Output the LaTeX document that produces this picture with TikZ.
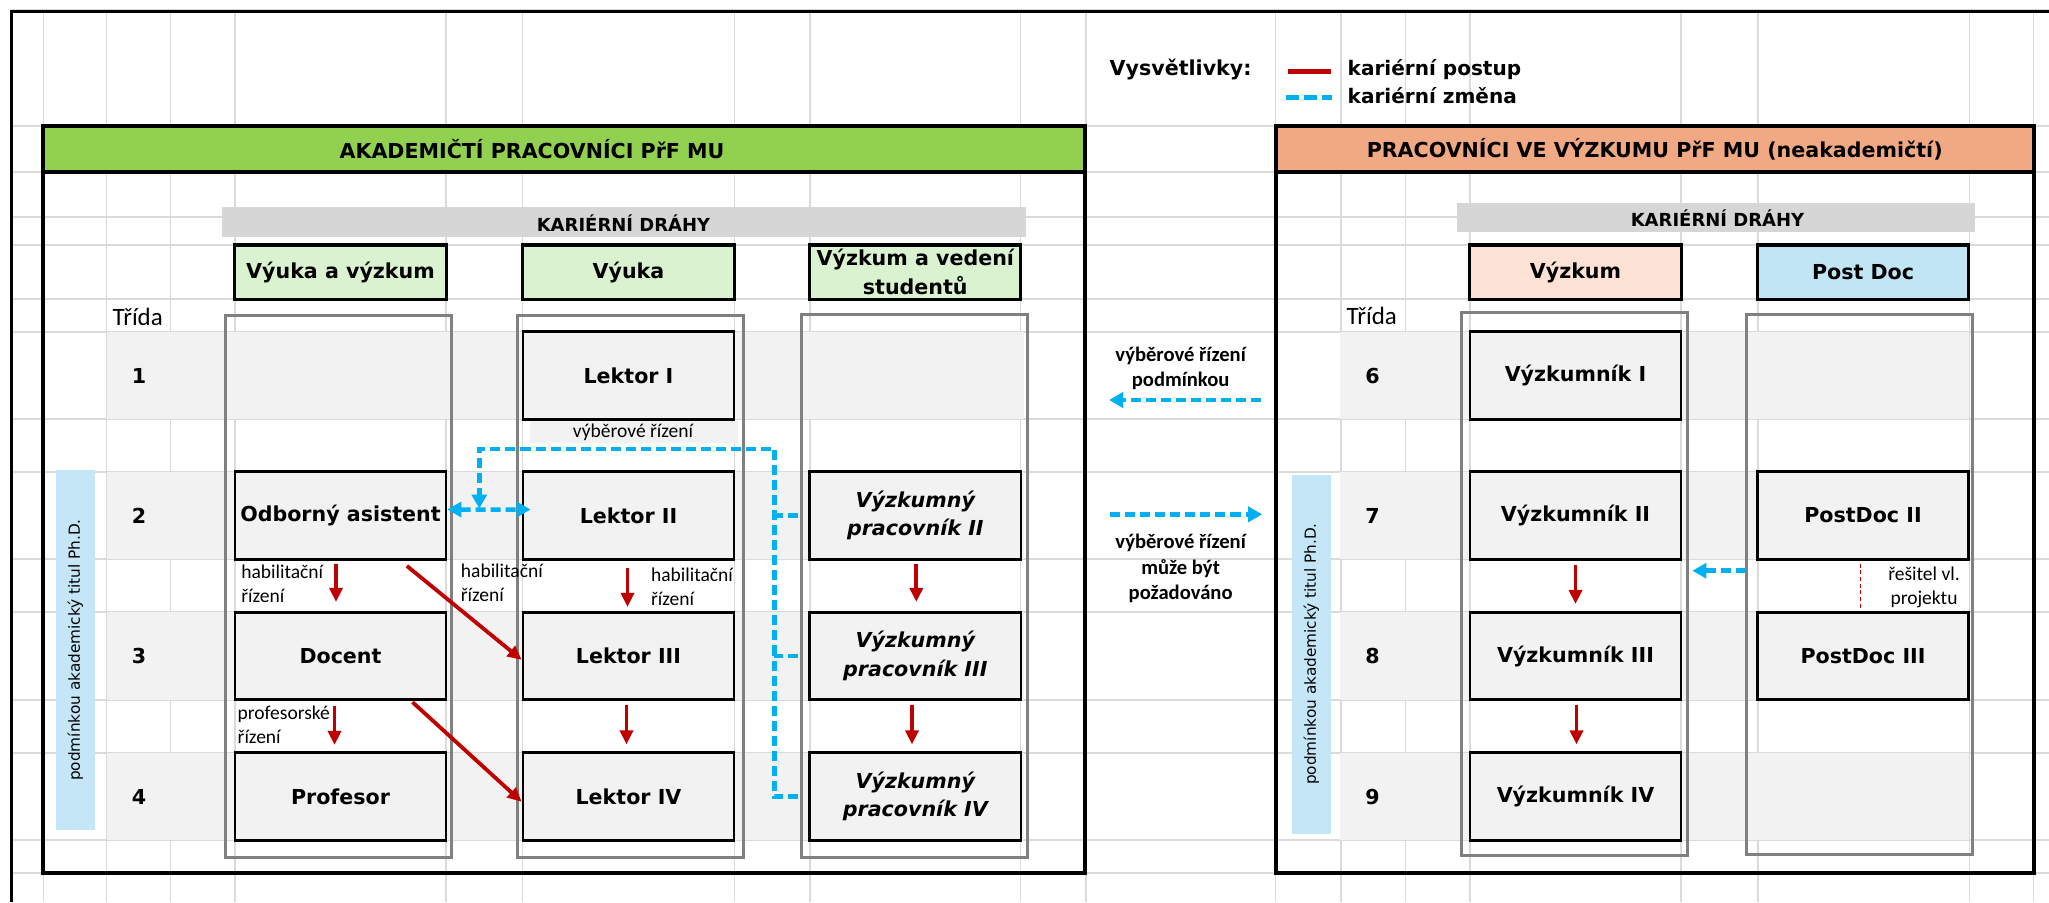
\documentclass[tikz,border=0pt]{standalone}
\usepackage{fontspec}
\setmainfont{DejaVu Sans}
\newfontfamily\calfont{Carlito}
\usetikzlibrary{arrows.meta,calc}
\definecolor{cred}{HTML}{C00000}
\definecolor{cblue}{HTML}{00B0F0}
\definecolor{gridc}{HTML}{DADADA}
\definecolor{cellgray}{HTML}{F2F2F2}
\definecolor{outgray}{HTML}{808080}
\definecolor{hgreen}{HTML}{92D050}
\definecolor{lgreen}{HTML}{DAF2D0}
\definecolor{horange}{HTML}{F1A983}
\definecolor{lpeach}{HTML}{FBE2D5}
\definecolor{lblue}{HTML}{C0E6F5}
\definecolor{hatchc}{HTML}{D6D6D6}
\definecolor{vlab}{HTML}{C5E6F6}
\newcommand\fMain{\fontsize{5.86pt}{8.08pt}\selectfont\bfseries}
\newcommand\fMainIt{\fontsize{5.86pt}{8.08pt}\selectfont\bfseries\itshape}
\newcommand\fKar{\fontsize{5.12pt}{6pt}\selectfont\bfseries}
\newcommand\fSmallCal{\calfont\fontsize{5.55pt}{6.83pt}\selectfont}
\newcommand\fMidCal{\calfont\fontsize{5.86pt}{7.26pt}\selectfont\bfseries}
\newcommand\fTrida{\calfont\fontsize{7.1pt}{8pt}\selectfont}
\newcommand\fVert{\fontsize{4.35pt}{5pt}\selectfont}
\newcommand\fLeg{\fontsize{5.7pt}{7pt}\selectfont\bfseries}
\tikzset{
  posbox/.style={draw=black, line width=0.027cm, fill=cellgray, minimum width=2.11cm, minimum height=0.875cm, inner sep=0pt, align=center, font=\fMain},
  colhead/.style={draw=black, line width=0.03cm, minimum width=2.11cm, minimum height=0.54cm, inner sep=0pt, align=center, font=\fMain},
  colout/.style={draw=outgray, line width=0.03cm},
  gridln/.style={draw=gridc, line width=0.015cm},
  frameln/.style={draw=black, line width=0.04cm},
  redarr/.style={draw=cred, line width=0.038cm, -{Triangle[length=0.14cm,width=0.13cm]}},
  bluedash/.style={draw=cblue, line width=0.045cm, dash pattern=on 0.1cm off 0.05cm},
  bluetip/.style={-{Triangle[length=0.14cm,width=0.15cm]}},
  smalllab/.style={font=\fSmallCal, align=left, inner sep=0pt},
  midlab/.style={font=\fMidCal, align=center, inner sep=0pt},
  numlab/.style={font=\fMain, inner sep=0pt},
}
\begin{document}
\begin{tikzpicture}[x=0.01cm,y=-0.01cm]
\useasboundingbox (0,0) rectangle (2049,902);
% spreadsheet grid
\foreach \gx in {43.5,106.6,170.5,235,446,522.6,734.5,810,1020.7,1086,1275.6,1341,1405.4,1470,1681,1758,1969.4,2033.6}
  \draw[gridln] (\gx,11) -- (\gx,902);
\foreach \gy in {126,172,217,245,299,332,419,472,559,612,700,753,840,873}
  \draw[gridln] (12,\gy) -- (2049,\gy);
\draw[gridln] (12,9.3) -- (2049,9.3);
\draw[black, line width=0.025cm] (2049,11.3) -- (11.7,11.3) -- (11.7,902);
% row bands
\foreach \ya/\yb in {332/419,472/559,612/700,753/840}{
  \fill[cellgray] (106.6,\ya) rectangle (1024,\yb);
  \fill[cellgray] (1340,\ya) rectangle (1969.4,\yb);
}
% vertical label backgrounds
\fill[vlab] (56,470) rectangle (94.7,830);
\fill[vlab] (1292,475) rectangle (1330.5,834);
% career band
\fill[hatchc] (221.7,207) rectangle (1025.6,237);
\fill[hatchc] (1457,203) rectangle (1974.7,232);
% frames
\draw[frameln] (43,126) rectangle (1085,873);
\draw[frameln, fill=hgreen] (43,126) rectangle (1085,172);
\draw[frameln] (1275.6,126) rectangle (2033.6,873);
\draw[frameln, fill=horange] (1275.6,126) rectangle (2033.6,172);
% column outlines
\draw[colout] (225.9,315) rectangle (451,857.7);
\draw[colout] (517.7,315) rectangle (743.6,857.7);
\draw[colout] (801.8,314) rectangle (1027.7,857.7);
\draw[colout] (1461.6,312.7) rectangle (1687.7,855.3);
\draw[colout] (1746.6,314) rectangle (1972,854);
% header texts
\node[font=\fMain, inner sep=0pt] (tAkad) at (532,149) {AKADEMIČTÍ PRACOVNÍCI PřF MU};
\node[font=\fMain, inner sep=0pt] (tVyzk) at (1654.7,149) {PRACOVNÍCI VE VÝZKUMU PřF MU (neakademičtí)};
\node[font=\fKar, inner sep=0pt] (kar1) at (623.5,222.7) {KARIÉRNÍ DRÁHY};
\node[font=\fKar, inner sep=0pt] (kar2) at (1717.5,218) {KARIÉRNÍ DRÁHY};
% legend
\node[font=\fMain, anchor=west, inner sep=0pt] (leg) at (1109,69) {Vysvětlivky:};
\coordinate (lr1) at (1288,71); \coordinate (lr2) at (1331,71);
\draw[cred, line width=0.05cm] (lr1) -- (lr2);
\coordinate (lb1) at (1286,97.7); \coordinate (lb2) at (1332,97.7);
\draw[cblue, line width=0.05cm, dash pattern=on 0.13cm off 0.05cm] (lb1) -- (lb2);
\node[font=\fLeg, anchor=west, inner sep=0pt] (leg1) at (1347,70) {kariérní postup};
\node[font=\fLeg, anchor=west, inner sep=0pt] (leg2) at (1347,96) {kariérní změna};
% column headers
\node[colhead, fill=lgreen] (ch1) at (340.5,272) {Výuka a výzkum};
\node[colhead, fill=lgreen] (ch2) at (628.5,272) {Výuka};
\node[colhead, fill=lgreen] (ch3) at (915.3,272) {Výzkum a vedení\\studentů};
\node[colhead, fill=lpeach] (ch4) at (1575.5,272) {Výzkum};
\node[colhead, fill=lblue] (ch5) at (1863,272) {Post Doc};
% Trida and numbers
\node[font=\fTrida, anchor=west, inner sep=0pt] (tr1) at (112,316.7) {Třída};
\node[font=\fTrida, anchor=west, inner sep=0pt] (tr2) at (1346,316) {Třída};
\node[numlab] (n1) at (139,375.5) {1};
\node[numlab] (n2) at (139,515.5) {2};
\node[numlab] (n3) at (139,656) {3};
\node[numlab] (n4) at (139,796.5) {4};
\node[numlab] (n6) at (1372.6,375.5) {6};
\node[numlab] (n7) at (1372.6,515.5) {7};
\node[numlab] (n8) at (1372.6,656) {8};
\node[numlab] (n9) at (1372.6,796.5) {9};
% vertical labels
\node[font=\fVert, rotate=90, inner sep=0pt] (vl1) at (75.3,650) {podmínkou akademický titul Ph.D.};
\node[font=\fVert, rotate=90, inner sep=0pt] (vl2) at (1311.2,654) {podmínkou akademický titul Ph.D.};
% position boxes
\node[posbox] (lek1) at (628.5,375.5) {Lektor I};
\node[posbox] (oa) at (340.5,515.5) {Odborný asistent};
\node[posbox] (lek2) at (628.5,515.5) {Lektor II};
\node[posbox, font=\fMainIt] (vp2) at (915.3,515.5) {Výzkumný\\pracovník II};
\node[posbox] (doc) at (340.5,656) {Docent};
\node[posbox] (lek3) at (628.5,656) {Lektor III};
\node[posbox, font=\fMainIt] (vp3) at (915.3,656) {Výzkumný\\pracovník III};
\node[posbox] (prof) at (340.5,796.5) {Profesor};
\node[posbox] (lek4) at (628.5,796.5) {Lektor IV};
\node[posbox, font=\fMainIt] (vp4) at (915.3,796.5) {Výzkumný\\pracovník IV};
\node[posbox] (vz1) at (1575.5,375.5) {Výzkumník I};
\node[posbox] (vz2) at (1575.5,515.5) {Výzkumník II};
\node[posbox] (pd2) at (1863,515.5) {PostDoc II};
\node[posbox] (vz3) at (1575.5,656) {Výzkumník III};
\node[posbox] (pd3) at (1863,656) {PostDoc III};
\node[posbox] (vz4) at (1575.5,796.5) {Výzkumník IV};
% label under Lektor I
\fill[cellgray] (529.6,420.7) rectangle (738,442.7);
\node[smalllab] (vr1) at (633,432.7) {výběrové řízení};
% small labels
\node[smalllab, anchor=west] (hab1) at (240.6,583.7) {habilitační\\řízení};
\node[smalllab, anchor=west] (hab2) at (460.2,582.5) {habilitační\\řízení};
\node[smalllab, anchor=west] (hab3) at (650.3,587) {habilitační\\řízení};
\node[smalllab, anchor=west] (prz) at (237,724.7) {profesorské\\řízení};
\node[midlab] (mid1) at (1180.6,368.5) {výběrové řízení\\podmínkou};
\node[midlab] (mid2) at (1180.6,568.6) {výběrové řízení\\může být\\požadováno};
\node[smalllab, align=center] (resit) at (1924,587.3) {řešitel vl.\\projektu};
% red career arrows
\draw[redarr] ([shift={(-4.5,3)}]oa.south) -- ([shift={(-4.5,-9)}]doc.north);
\draw[redarr] ([shift={(-1,7.5)}]lek2.south) -- ([shift={(-1,-4)}]lek3.north);
\draw[redarr] ([shift={(1,3)}]vp2.south) -- ([shift={(1,-9)}]vp3.north);
\draw[redarr] ([shift={(-6,5)}]doc.south) -- ([shift={(-6,-6.5)}]prof.north);
\draw[redarr] ([shift={(-2,3.5)}]lek3.south) -- ([shift={(-2,-7)}]lek4.north);
\draw[redarr] ([shift={(-3.3,3.5)}]vp3.south) -- ([shift={(-3.3,-7)}]vp4.north);
\draw[redarr] ([shift={(0,4)}]vz2.south) -- ([shift={(0,-7)}]vz3.north);
\draw[redarr] ([shift={(1,3.5)}]vz3.south) -- ([shift={(1,-7)}]vz4.north);
\draw[redarr] ([shift={(66.4,5.3)}]oa.south) -- ([shift={(0,3.8)}]lek3.west);
\draw[redarr] ([shift={(72,1)}]doc.south) -- ([shift={(0,5.2)}]lek4.west);
% blue career-change connectors
\coordinate (busTop) at (774.3,449);
\coordinate (loopL) at (479.3,449);
\coordinate (dblC) at ($(loopL |- oa.east)+(0,-7)$);
\draw[bluedash, bluetip] ([xshift=-0.1cm]vp4.west) -- (busTop |- vp4.west) -- (busTop) -- (loopL) -- (dblC);
\draw[bluedash] ([xshift=-0.1cm]vp2.west) -- (busTop |- vp2.west);
\draw[bluedash] ([xshift=-0.1cm]vp3.west) -- (busTop |- vp3.west);
\draw[bluedash, {Triangle[length=0.14cm,width=0.15cm]}-{Triangle[length=0.14cm,width=0.15cm]}] ([yshift=0.06cm]oa.east) -- ([shift={(9,-6)}]lek2.west);
\coordinate (a1s) at (1261,400); \coordinate (a1e) at (1109,400);
\draw[bluedash, bluetip] (a1s) -- (a1e);
\coordinate (a2s) at (1110.4,514.3); \coordinate (a2e) at (1262.2,514.3);
\draw[bluedash, bluetip] (a2s) -- (a2e);
\coordinate (pdS) at (1746,570.7); \coordinate (pdE) at (1692.4,570.7);
\draw[bluedash, bluetip] (pdS) -- (pdE);
% thin red dashed line PostDoc
\draw[cred, line width=0.012cm, dash pattern=on 0.04cm off 0.027cm] ([shift={(-2.7,3)}]pd2.south) -- ([shift={(-2.7,-2)}]pd3.north);
\end{tikzpicture}
\end{document}
